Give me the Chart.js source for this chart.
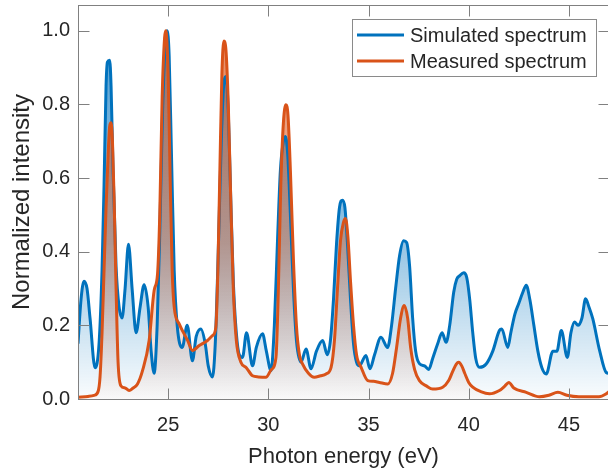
<!DOCTYPE html>
<html>
<head>
<meta charset="utf-8">
<script src="https://cdn.jsdelivr.net/npm/chart.js@4/dist/chart.umd.min.js"></script>
<style>
  html, body { margin: 0; padding: 0; background: #fff; overflow: hidden; }
  #wrap { width: 612px; height: 472px; }
</style>
</head>
<body>
<div id="wrap"><canvas id="spectrumChart" width="612" height="472"></canvas></div>
<script>
// photon energy (eV) and normalized intensity
const simEnergy = [20.5, 20.65, 20.8, 20.95, 21.1, 21.35, 21.55, 21.7, 21.8, 21.9, 21.97, 22.08, 22.15, 22.25, 22.4, 22.55, 22.7, 22.85, 23.02, 23.2, 23.4, 23.6, 23.8, 24.0, 24.15, 24.3, 24.45, 24.58, 24.72, 24.85, 24.95, 25.05, 25.17, 25.3, 25.45, 25.7, 25.95, 26.21, 26.4, 26.63, 26.85, 27.0, 27.21, 27.35, 27.5, 27.65, 27.78, 27.88, 28.0, 28.12, 28.25, 28.4, 28.55, 28.71, 28.91, 29.21, 29.4, 29.71, 29.9, 30.13, 30.3, 30.45, 30.6, 30.75, 30.85, 30.97, 31.1, 31.25, 31.4, 31.63, 31.88, 32.13, 32.4, 32.71, 32.94, 33.1, 33.25, 33.4, 33.55, 33.7, 33.82, 33.95, 34.1, 34.25, 34.4, 34.54, 34.87, 35.07, 35.3, 35.62, 35.95, 36.15, 36.35, 36.55, 36.75, 36.9, 37.05, 37.2, 37.35, 37.54, 37.8, 38.0, 38.2, 38.45, 38.67, 38.87, 39.05, 39.25, 39.4, 39.55, 39.75, 39.9, 40.05, 40.2, 40.35, 40.54, 40.87, 41.2, 41.53, 41.65, 41.95, 42.1, 42.3, 42.5, 42.7, 42.87, 43.05, 43.25, 43.45, 43.65, 43.87, 44.2, 44.4, 44.62, 44.92, 45.1, 45.28, 45.45, 45.65, 45.83, 46.0, 46.19, 46.53, 46.86, 47.0];
const simValues = [0.15, 0.27, 0.32, 0.3, 0.22, 0.085, 0.15, 0.35, 0.58, 0.85, 0.915, 0.92, 0.85, 0.62, 0.36, 0.25, 0.22, 0.3, 0.42, 0.3, 0.18, 0.25, 0.31, 0.25, 0.13, 0.07, 0.2, 0.45, 0.78, 0.96, 1.0, 0.93, 0.65, 0.35, 0.2, 0.14, 0.2, 0.104, 0.17, 0.19, 0.15, 0.09, 0.06, 0.15, 0.4, 0.7, 0.86, 0.876, 0.78, 0.55, 0.32, 0.18, 0.12, 0.113, 0.18, 0.09, 0.14, 0.177, 0.13, 0.077, 0.2, 0.42, 0.62, 0.7, 0.713, 0.66, 0.5, 0.3, 0.16, 0.1, 0.136, 0.082, 0.13, 0.159, 0.12, 0.16, 0.27, 0.42, 0.52, 0.54, 0.52, 0.42, 0.27, 0.15, 0.1, 0.09, 0.118, 0.082, 0.12, 0.168, 0.14, 0.2, 0.3, 0.39, 0.43, 0.425, 0.36, 0.22, 0.13, 0.096, 0.09, 0.08, 0.11, 0.15, 0.18, 0.154, 0.2, 0.29, 0.325, 0.335, 0.343, 0.33, 0.27, 0.18, 0.11, 0.086, 0.095, 0.13, 0.186, 0.19, 0.14, 0.18, 0.23, 0.26, 0.29, 0.309, 0.27, 0.2, 0.13, 0.085, 0.068, 0.13, 0.13, 0.186, 0.113, 0.18, 0.209, 0.2, 0.22, 0.272, 0.25, 0.218, 0.132, 0.072, 0.07];

const measEnergy = [20.5, 21.0, 21.3, 21.5, 21.6, 21.7, 21.8, 21.9, 22.0, 22.08, 22.15, 22.22, 22.3, 22.4, 22.5, 22.64, 22.85, 23.05, 23.25, 23.47, 23.72, 24.05, 24.3, 24.47, 24.58, 24.7, 24.82, 24.88, 25.0, 25.1, 25.2, 25.3, 25.55, 25.97, 26.21, 26.55, 26.96, 27.21, 27.38, 27.48, 27.58, 27.68, 27.78, 27.88, 28.0, 28.12, 28.25, 28.4, 28.63, 28.9, 29.21, 29.5, 29.88, 30.15, 30.38, 30.5, 30.62, 30.75, 30.88, 30.98, 31.1, 31.25, 31.4, 31.55, 31.71, 32.0, 32.29, 32.6, 32.88, 33.13, 33.3, 33.45, 33.6, 33.75, 33.85, 33.97, 34.1, 34.25, 34.4, 34.63, 34.96, 35.25, 35.54, 35.96, 36.2, 36.4, 36.6, 36.78, 36.95, 37.1, 37.3, 37.54, 37.9, 38.2, 38.7, 39.0, 39.2, 39.38, 39.5, 39.65, 39.8, 40.0, 40.2, 40.6, 41.03, 41.53, 41.8, 42.0, 42.25, 42.87, 43.53, 44.0, 44.45, 44.9, 45.5, 46.5, 46.86, 47.0];
const measValues = [0.005, 0.007, 0.01, 0.02, 0.06, 0.18, 0.35, 0.52, 0.66, 0.74, 0.75, 0.7, 0.55, 0.3, 0.1, 0.036, 0.03, 0.023, 0.03, 0.041, 0.077, 0.159, 0.295, 0.34, 0.5, 0.82, 0.98, 1.0, 0.88, 0.6, 0.35, 0.25, 0.204, 0.159, 0.132, 0.145, 0.159, 0.172, 0.195, 0.35, 0.62, 0.88, 0.972, 0.95, 0.8, 0.55, 0.3, 0.16, 0.1, 0.085, 0.063, 0.06, 0.059, 0.08, 0.113, 0.3, 0.58, 0.75, 0.799, 0.77, 0.62, 0.38, 0.2, 0.12, 0.095, 0.07, 0.059, 0.063, 0.068, 0.086, 0.16, 0.3, 0.43, 0.48, 0.49, 0.44, 0.32, 0.2, 0.12, 0.086, 0.05, 0.048, 0.045, 0.041, 0.07, 0.14, 0.22, 0.254, 0.22, 0.14, 0.08, 0.05, 0.035, 0.027, 0.032, 0.05, 0.075, 0.095, 0.1, 0.09, 0.07, 0.045, 0.032, 0.02, 0.014, 0.023, 0.035, 0.045, 0.03, 0.018, 0.006, 0.01, 0.018, 0.01, 0.006, 0.006, 0.014, 0.02];

const xTicks = [25, 30, 35, 40, 45];
const yTicks = [0, 0.2, 0.4, 0.6, 0.8, 1.0];

const FONT = "'Liberation Sans', Arial, sans-serif";
const TEXT = '#262626';
const AXIS = '#808080';

function fadeFill(rgb) {
    return (c) => {
        const area = c.chart.chartArea;
        if (!area) return 'rgba(' + rgb + ',0.2)';
        const g = c.chart.ctx.createLinearGradient(0, area.bottom, 0, area.top);
        g.addColorStop(0, 'rgba(' + rgb + ',0.02)');
        g.addColorStop(0.4, 'rgba(' + rgb + ',0.42)');
        g.addColorStop(1, 'rgba(' + rgb + ',0.7)');
        return g;
    };
}

// box round the plot, ticks pointing inwards, legend in the top right corner
const framePlugin = {
    id: 'frame',
    afterDraw(chart) {
        const { ctx, chartArea: a, scales: { x, y } } = chart;
        const L = Math.round(a.left) + 0.5, R = Math.round(a.right) + 0.5;
        const T = Math.round(a.top) + 0.5, B = Math.round(a.bottom) + 0.5;
        ctx.save();
        ctx.strokeStyle = AXIS;
        ctx.lineWidth = 1;
        ctx.strokeRect(L, T, R - L, B - T);
        ctx.beginPath();
        xTicks.forEach((v) => {
            const px = Math.round(x.getPixelForValue(v)) + 0.5;
            ctx.moveTo(px, B); ctx.lineTo(px, B - 11);
            ctx.moveTo(px, T); ctx.lineTo(px, T + 11);
        });
        yTicks.forEach((v) => {
            const py = Math.round(y.getPixelForValue(v)) + 0.5;
            ctx.moveTo(L, py); ctx.lineTo(L + 11, py);
            ctx.moveTo(R, py); ctx.lineTo(R - 11, py);
        });
        ctx.stroke();

        // legend
        const bx = 352.5, by = 19.5, bw = 244, bh = 57;
        ctx.fillStyle = '#fff';
        ctx.fillRect(bx, by, bw, bh);
        ctx.strokeStyle = '#8a8a8a';
        ctx.strokeRect(bx, by, bw, bh);
        ctx.font = '20px ' + FONT;
        ctx.textBaseline = 'middle';
        chart.data.datasets.forEach((ds, i) => {
            const ly = 35 + i * 26;
            ctx.strokeStyle = ds.borderColor;
            ctx.lineWidth = 3;
            ctx.beginPath();
            ctx.moveTo(357, ly); ctx.lineTo(404, ly);
            ctx.stroke();
            ctx.fillStyle = TEXT;
            ctx.fillText(ds.label, 410, ly + 1);
        });
        ctx.restore();
    }
};

const ctx = document.getElementById('spectrumChart').getContext('2d');

const chart = new Chart(ctx, {
    type: 'line',
    data: {
        datasets: [
            {
                label: 'Simulated spectrum',
                data: simEnergy.map((e, i) => ({ x: e, y: simValues[i] })),
                borderColor: '#0072BD',
                backgroundColor: fadeFill('0,114,189'),
                borderWidth: 3,
                fill: 'origin',
                pointRadius: 0,
                cubicInterpolationMode: 'monotone',
                order: 2
            },
            {
                label: 'Measured spectrum',
                data: measEnergy.map((e, i) => ({ x: e, y: measValues[i] })),
                borderColor: '#D95319',
                backgroundColor: fadeFill('217,83,25'),
                borderWidth: 3,
                fill: 'origin',
                pointRadius: 0,
                cubicInterpolationMode: 'monotone',
                order: 1
            }
        ]
    },
    options: {
        responsive: false,
        animation: false,
        devicePixelRatio: 1,
        layout: { padding: { left: 0, top: 5, right: 3, bottom: 0 } },
        plugins: {
            legend: { display: false },
            tooltip: { enabled: false },
            filler: { drawTime: 'beforeDatasetsDraw' }
        },
        scales: {
            x: {
                type: 'linear',
                min: 20.5,
                max: 47,
                afterBuildTicks: (s) => { s.ticks = xTicks.map((v) => ({ value: v })); },
                afterFit: (s) => { s.height = 73; s.paddingLeft = 0; s.paddingRight = 0; },
                grid: { display: false, drawTicks: false },
                border: { display: false },
                ticks: { color: TEXT, font: { family: FONT, size: 20 }, padding: 14, maxRotation: 0 },
                title: { display: true, text: 'Photon energy (eV)', color: TEXT, font: { family: FONT, size: 22 }, padding: { top: 0, bottom: 2 } }
            },
            y: {
                min: 0,
                max: 1.07,
                afterBuildTicks: (s) => { s.ticks = yTicks.map((v) => ({ value: v })); },
                afterFit: (s) => { s.width = 78; s.paddingTop = 0; s.paddingBottom = 0; },
                grid: { display: false, drawTicks: false },
                border: { display: false },
                ticks: { color: TEXT, font: { family: FONT, size: 20 }, padding: 8, callback: (v) => v.toFixed(1) },
                title: { display: true, text: 'Normalized intensity', color: TEXT, font: { family: FONT, size: 24 }, padding: { top: 8, bottom: 0 } }
            }
        }
    },
    plugins: [framePlugin]
});
</script>
</body>
</html>
